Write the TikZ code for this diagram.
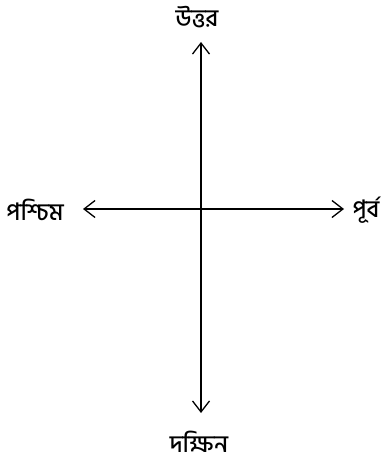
\documentclass[tikz,border=0pt]{standalone}
\usepackage{fontspec}
\newfontfamily\bnfont[Script=Bengali]{Hind Siliguri Medium}
\usetikzlibrary{arrows.meta}
\begin{document}
\begin{tikzpicture}[x=1pt,y=-1pt,
  axis/.style={line width=1.3pt, {Straight Barb[length=11pt,width=17pt]}-{Straight Barb[length=11pt,width=17pt]}},
  lbl/.style={font=\bnfont\fontsize{24}{28}\selectfont, inner sep=0pt}]
\useasboundingbox (0,0) rectangle (390,465);
\node[lbl] (n) at (197,17) {উত্তর};
\node[lbl] (s) at (199,442) {দক্ষিন};
\node[lbl] (w) at (35,210) {পশ্চিম};
\node[lbl] (e) at (366,210) {পূর্ব};
\coordinate (nt) at (201,42);
\coordinate (st) at (201,413);
\coordinate (wt) at (83,209);
\coordinate (et) at (344,209);
\draw[axis] (st) -- (nt);
\draw[axis] (wt) -- (et);
\end{tikzpicture}
\end{document}
